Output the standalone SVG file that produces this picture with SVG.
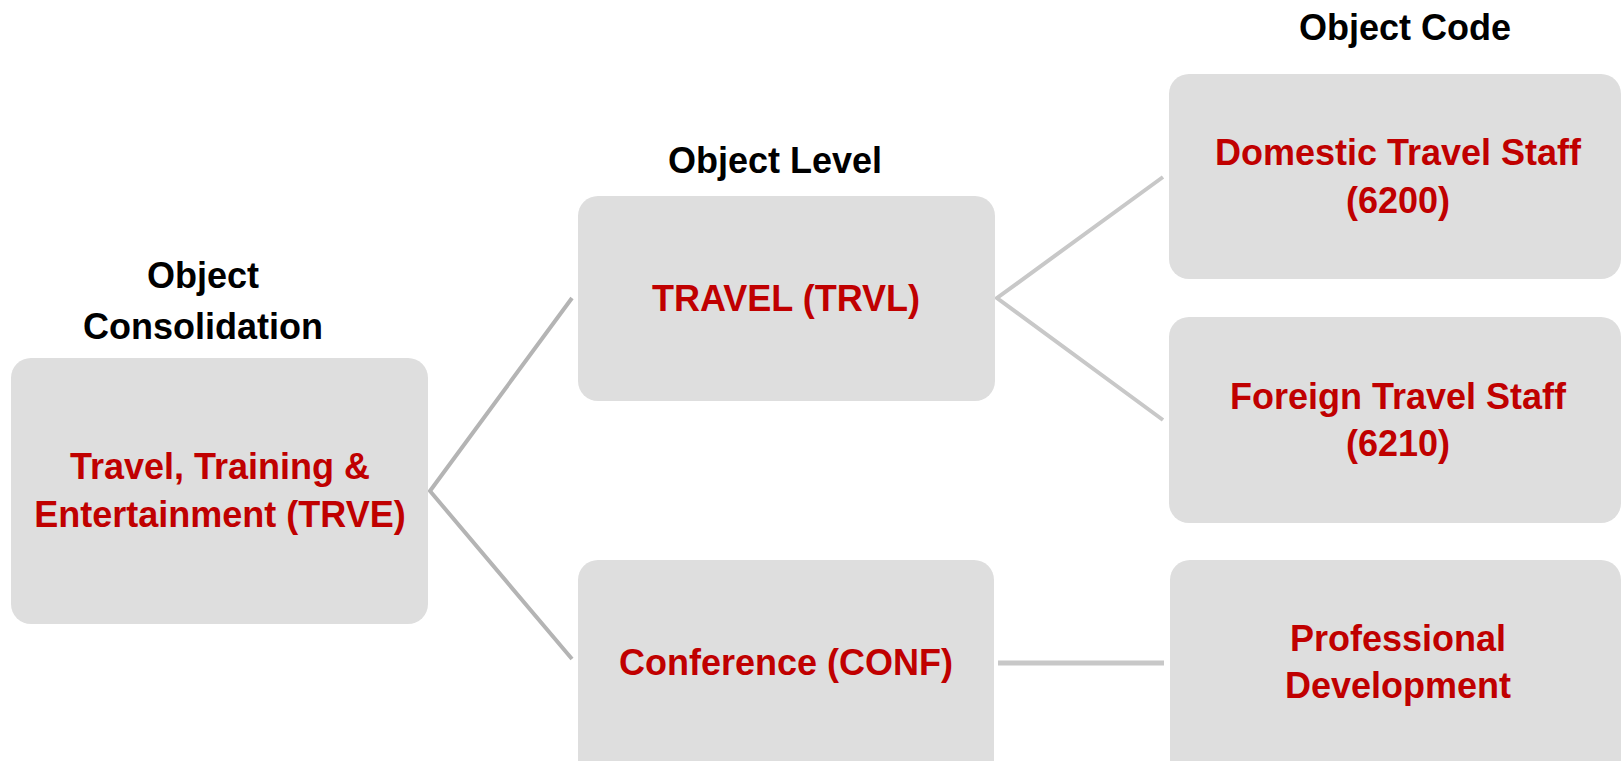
<svg xmlns="http://www.w3.org/2000/svg" width="1622" height="761" viewBox="0 0 1622 761">
<style>
.box{fill:#dedede;}
.lbl{font-family:"Liberation Sans",Arial,sans-serif;font-weight:bold;font-size:36px;fill:#c00000;text-anchor:middle;}
.hd{font-family:"Liberation Sans",Arial,sans-serif;font-weight:bold;font-size:36px;fill:#000;text-anchor:middle;}
.ln{fill:none;stroke-width:4;stroke-linejoin:miter;}
</style>
<rect width="1622" height="761" fill="#fff"/>
<g id="headings">
<text class="hd" x="203" y="288">Object</text>
<text class="hd" x="203" y="339">Consolidation</text>
<text class="hd" x="775" y="173">Object Level</text>
<text class="hd" x="1405" y="40">Object Code</text>
</g>
<g id="connectors">
<polyline class="ln" stroke="#b4b4b4" points="572,298 430,491 572,659"/>
<polyline class="ln" stroke="#c8c8c8" points="1163,177 997,298 1163,420"/>
<line x1="998" y1="663" x2="1164" y2="663" stroke="#c8c8c8" stroke-width="5"/>
</g>
<g id="node-trve">
<rect class="box" x="11" y="358" width="417" height="266" rx="20"/>
<text class="lbl" x="220" y="479">Travel, Training &amp;</text>
<text class="lbl" x="220" y="527">Entertainment (TRVE)</text>
</g>
<g id="node-trvl">
<rect class="box" x="578" y="196" width="417" height="205" rx="20"/>
<text class="lbl" x="786" y="311">TRAVEL (TRVL)</text>
</g>
<g id="node-conf">
<rect class="box" x="578" y="560" width="416" height="225" rx="20"/>
<text class="lbl" x="786" y="675">Conference (CONF)</text>
</g>
<g id="node-6200">
<rect class="box" x="1169" y="74" width="452" height="205" rx="20"/>
<text class="lbl" x="1398" y="165">Domestic Travel Staff</text>
<text class="lbl" x="1398" y="213">(6200)</text>
</g>
<g id="node-6210">
<rect class="box" x="1169" y="317" width="452" height="206" rx="20"/>
<text class="lbl" x="1398" y="409">Foreign Travel Staff</text>
<text class="lbl" x="1398" y="456">(6210)</text>
</g>
<g id="node-profdev">
<rect class="box" x="1170" y="560" width="451" height="225" rx="20"/>
<text class="lbl" x="1398" y="651">Professional</text>
<text class="lbl" x="1398" y="698">Development</text>
</g>
</svg>
